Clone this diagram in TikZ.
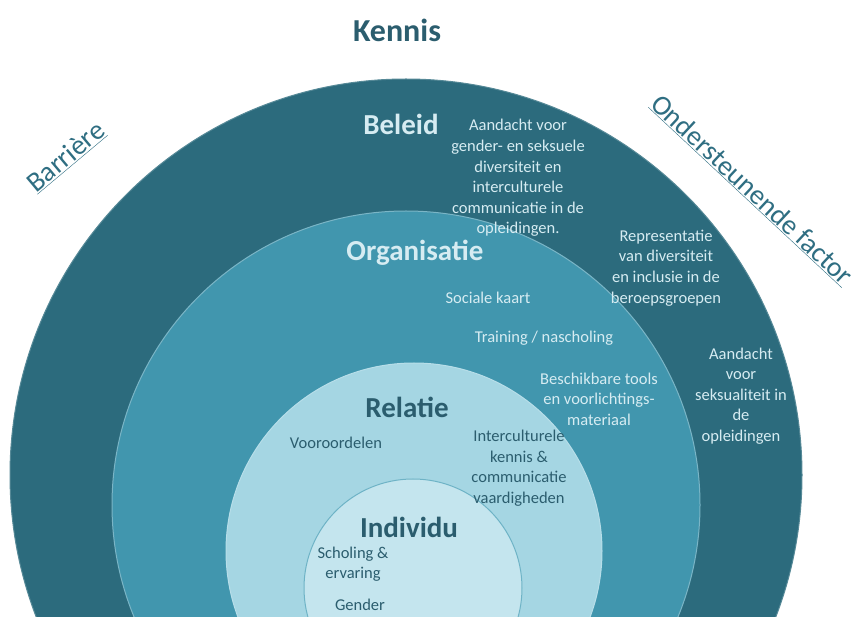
\documentclass[tikz,border=0pt]{standalone}
\usepackage{fontspec}
\setmainfont{Carlito}
\definecolor{ringA}{HTML}{2C6B7D}
\definecolor{ringB}{HTML}{4196AE}
\definecolor{ringC}{HTML}{A5D6E3}
\definecolor{ringD}{HTML}{C4E5EE}
\definecolor{lighttxt}{HTML}{D6ECF2}
\definecolor{darktxt}{HTML}{2B5D6E}
\definecolor{sidetxt}{HTML}{2F6E82}
\tikzset{
  ring/.style={line width=1pt},
  levelname/.style={font=\fontsize{29}{34}\selectfont\bfseries, inner sep=0pt},
  lightlabel/.style={text=lighttxt, align=center, inner sep=0pt, font=\fontsize{16.5}{20.6}\selectfont},
  darklabel/.style={text=darktxt, align=center, inner sep=0pt, font=\fontsize{16.5}{20.6}\selectfont},
  sidelabel/.style={text=sidetxt, inner sep=0pt, font=\fontsize{28}{32}\selectfont}
}
\begin{document}
\begin{tikzpicture}[x=1pt,y=-1pt]
\useasboundingbox (0,0) rectangle (868,617);
\fill[white] (0,0) rectangle (868,617);
\begin{scope}
\clip (0,0) rectangle (868,617);
\filldraw[ring, fill=ringA, draw=ringA!80!white] (406,475) circle [radius=396pt];
\filldraw[ring, fill=ringB, draw=ringB!70!white] (406,505) circle [radius=294pt];
\filldraw[ring, fill=ringC, draw=ringC!80!white] (414,551) circle [radius=188pt];
\filldraw[ring, fill=ringD, draw=ringB!55!ringC] (413,588) circle [radius=109pt];
\end{scope}

\node[levelname, text=darktxt, font=\fontsize{32}{36}\selectfont\bfseries] (kennis) at (397,30) {Kennis};

\node[levelname, text=lighttxt] (beleid) at (401,124) {Beleid};
\node[levelname, text=lighttxt] (organisatie) at (415,253) {Organisatie};
\node[levelname, text=darktxt] (relatie) at (407,407) {Relatie};
\node[levelname, text=darktxt] (individu) at (409,527) {Individu};

\node[lightlabel] (b1) at (518,178) {Aandacht voor\\gender- en seksuele\\diversiteit en\\interculturele\\communicatie in de\\opleidingen.};
\node[lightlabel] (b2) at (666,268) {Representatie\\van diversiteit\\en inclusie in de\\beroepsgroepen};
\node[lightlabel] (b3) at (741,396) {Aandacht\\voor\\seksualiteit in\\de\\opleidingen};

\node[lightlabel] (o1) at (488,298) {Sociale kaart};
\node[lightlabel] (o2) at (544,338) {Training / nascholing};
\node[lightlabel] (o3) at (599,399) {Beschikbare tools\\en voorlichtings-\\materiaal};

\node[darklabel] (r1) at (336,443) {Vooroordelen};
\node[darklabel] (r2) at (519,468) {Interculturele\\kennis \&\\communicatie\\vaardigheden};

\node[darklabel] (i1) at (353,564) {Scholing \&\\ervaring};
\node[darklabel] (i2) at (360,605) {Gender};

\node[sidelabel, rotate=40] (barriere) at (66,157) {\underline{Barrière}};
\node[sidelabel, rotate=-43] (steun) at (752,190) {\underline{Ondersteunende factor}};
\end{tikzpicture}
\end{document}
